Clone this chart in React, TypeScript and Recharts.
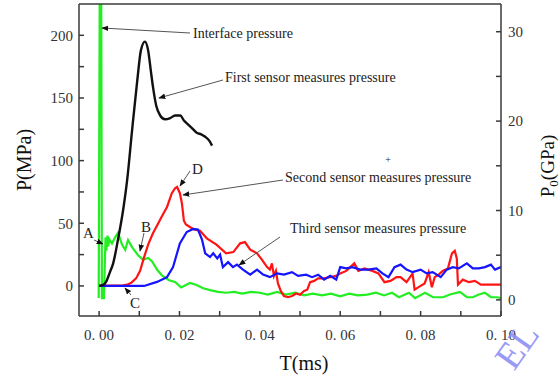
import React from "react"
import { Line, LineChart, XAxis, YAxis } from "recharts"

// time (ms)
const firstT = [0, 0.001, 0.0017, 0.0027, 0.0035, 0.0047, 0.006, 0.007, 0.0082, 0.0095, 0.0104, 0.0114, 0.0122, 0.0129, 0.0134, 0.0142, 0.0152, 0.0164, 0.0177, 0.0189, 0.0202, 0.0211, 0.0221, 0.0231, 0.0244, 0.0254, 0.0264, 0.0274, 0.0281]
const firstP = [0, 0.8, 3, 11, 18, 37, 61, 85, 124, 164, 188, 195, 188, 171, 159, 144, 136, 133, 134, 136, 136, 132, 129, 126, 122, 121, 119, 116, 112]

const secondT = [0, 0.006, 0.007, 0.008, 0.0092, 0.0102, 0.0112, 0.0122, 0.0134, 0.0144, 0.0157, 0.0169, 0.0181, 0.0189, 0.0194, 0.0201, 0.0206, 0.0211, 0.0216, 0.0226, 0.0236, 0.0251, 0.0268, 0.0292, 0.0316, 0.0334, 0.0351, 0.0363, 0.0376, 0.0393, 0.0405, 0.0418, 0.0425, 0.043, 0.0435, 0.044, 0.0445, 0.0452, 0.046, 0.047, 0.048, 0.049, 0.05, 0.051, 0.0518, 0.0525, 0.0535, 0.0545, 0.056, 0.0575, 0.059, 0.06, 0.0615, 0.0625, 0.0635, 0.0645, 0.066, 0.067, 0.068, 0.0695, 0.071, 0.0725, 0.074, 0.075, 0.0765, 0.078, 0.0785, 0.0795, 0.081, 0.082, 0.0828, 0.0835, 0.0845, 0.0855, 0.0868, 0.0878, 0.0885, 0.089, 0.0893, 0.0905, 0.092, 0.0935, 0.095, 0.097, 0.1]
const secondP = [0, 0.5, 1, 2.5, 6, 12, 23, 33, 42, 48, 56, 63, 74, 78, 79, 74, 66, 52, 49, 47, 45, 44, 38, 33, 26, 27, 34, 35, 29, 26, 21, 15, 13, 18, 8, 12, 2, -4, -8, -9, -8, -6, -7, -4, -3, 3, 4, 6, 6, 7, 8, 10, 12, 15, 18, 12, 14, 13, 12, 10, 3, 4, 7, 7, 3, 10, -3, -1, 2, 11, -1, 7, 9, 12, 14, 26, 28, 22, 1, 5, 3, 4, 1, 1, 1]

const thirdT = [0, 0.0112, 0.0144, 0.0169, 0.0184, 0.0201, 0.0218, 0.0234, 0.0246, 0.0256, 0.0264, 0.0276, 0.0284, 0.0294, 0.0301, 0.0308, 0.0321, 0.0333, 0.0343, 0.0358, 0.0376, 0.0393, 0.0408, 0.0425, 0.0443, 0.046, 0.048, 0.0495, 0.0515, 0.053, 0.0545, 0.056, 0.0575, 0.059, 0.06, 0.0615, 0.063, 0.065, 0.067, 0.069, 0.0705, 0.072, 0.0735, 0.075, 0.0765, 0.078, 0.08, 0.0815, 0.083, 0.085, 0.0865, 0.088, 0.0895, 0.0915, 0.093, 0.0945, 0.096, 0.0975, 0.0985, 0.1]
const thirdP = [0, 0, 3.2, 7, 15, 34, 43, 45.5, 45, 37, 26, 23, 26, 22, 25, 15, 19, 15, 17, 13, 9, 13, 9, 7, 10, 9, 11, 8, 9, 7, 9, 5, 8, 5, 15, 14, 15, 13, 13, 14, 10, 7, 15, 17, 13, 11, 13, 10, 11, 7, 13, 15, 14, 18, 14, 14, 15, 17, 13, 15]

const interfaceT = [-0.0001, 0.0002, 0.0005, 0.0007, 0.0012, 0.0016, 0.0018, 0.0021, 0.0023, 0.0025, 0.0032, 0.004, 0.0047, 0.0057, 0.0065, 0.0072, 0.0082, 0.0097, 0.0109, 0.0122, 0.0132, 0.0144, 0.0157, 0.0174, 0.0189, 0.0204, 0.0226, 0.0241, 0.0259, 0.0276, 0.0296, 0.0316, 0.0336, 0.0356, 0.0378, 0.04, 0.042, 0.0443, 0.0465, 0.0488, 0.051, 0.0532, 0.0555, 0.0577, 0.06, 0.0622, 0.0644, 0.0667, 0.0689, 0.0709, 0.0729, 0.0746, 0.0771, 0.0786, 0.0811, 0.0831, 0.0856, 0.0873, 0.0898, 0.0915, 0.093, 0.0945, 0.096, 0.0975, 0.099, 0.1]
const interfaceP0 = [0.2, 40, 40, 0.2, 0.2, 7, 5.5, 7.2, 6, 6.8, 6.3, 7, 7.5, 6.2, 5.6, 6.7, 5.9, 5, 4.5, 4.7, 4.3, 3.4, 2.7, 2.2, 2, 1.4, 1.9, 1.7, 1.3, 1.1, 0.9, 0.8, 0.9, 0.7, 0.9, 0.8, 0.6, 0.9, 0.6, 0.8, 0.5, 0.7, 0.5, 0.7, 0.4, 0.7, 0.5, 0.6, 0.8, 0.5, 0.8, 0.3, 0.8, 0.2, 0.8, 0.3, 0.3, 0.6, 0.9, 0.3, 0.3, 0.6, 0.8, 0.3, 0.3, 0.2]

const xTicks = [0, 0.01, 0.02, 0.03, 0.04, 0.05, 0.06, 0.07, 0.08, 0.09, 0.1]
const xLabels = ["0. 00", "", "0. 02", "", "0. 04", "", "0. 06", "", "0. 08", "", "0. 10"]
const leftTicks = [0, 25, 50, 75, 100, 125, 150, 175, 200]
const leftLabels = ["0", "", "50", "", "100", "", "150", "", "200"]
const rightTicks = [0, 5, 10, 15, 20, 25, 30]
const rightLabels = ["0", "", "10", "", "20", "", "30"]

const zip = (ts: number[], vs: number[]) => ts.map((t, i) => ({ t, v: vs[i] }))

const serif = "'Liberation Serif', 'DejaVu Serif', serif"
const axisColor = "#3a3a3a"
const tickStyle = { fill: "#333", fontSize: 15, fontFamily: serif }
const xDomain = [-0.005, 0.1]

const lookup = (ticks: number[], labels: string[]) => (v: number) => {
  const i = ticks.findIndex((x) => Math.abs(x - v) < 1e-9)
  return i >= 0 ? labels[i] : ""
}

function Notes() {
  const txt = { fontFamily: serif, fontSize: 14, fill: "#222" }
  const ln = { stroke: "#555", strokeWidth: 1, markerEnd: "url(#arr)" }
  return (
    <svg width={560} height={381} style={{ position: "absolute", left: 0, top: 0, pointerEvents: "none" }}>
      <defs>
        <marker id="arr" viewBox="0 0 10 10" refX="9" refY="5" markerWidth="7" markerHeight="7" orient="auto-start-reverse">
          <path d="M0,1 L10,5 L0,9 z" fill="#111" />
        </marker>
      </defs>
      <line x1={190} y1={33} x2={102} y2={28} {...ln} />
      <text x={193} y={38} {...txt}>Interface pressure</text>
      <line x1={223} y1={80} x2={159} y2={98} {...ln} />
      <text x={225} y={82} {...txt}>First sensor measures pressure</text>
      <line x1={283} y1={180} x2={183} y2={195} {...ln} />
      <text x={285} y={182} {...txt}>Second sensor measures pressure</text>
      <line x1={280} y1={237} x2={239} y2={265} {...ln} />
      <text x={290} y={233} {...txt}>Third sensor measures pressure</text>
      <line x1={190} y1={171} x2={180} y2={186} {...ln} />
      <text x={192} y={174} {...txt} fontSize={15}>D</text>
      <line x1={94} y1={240} x2={103} y2={244} {...ln} />
      <text x={83} y={238} {...txt} fontSize={15}>A</text>
      <line x1={144} y1={233} x2={140} y2={251} {...ln} />
      <text x={141} y={232} {...txt} fontSize={15}>B</text>
      <line x1={131} y1={295} x2={125} y2={288} {...ln} />
      <text x={130} y={308} {...txt} fontSize={15}>C</text>
      <text x={388} y={163} {...txt} fontSize={10} textAnchor="middle">+</text>
      <text transform="translate(31,160) rotate(-90)" textAnchor="middle" fontFamily={serif} fontSize={20} fill="#111">P(MPa)</text>
      <text transform="translate(554,166) rotate(-90)" textAnchor="middle" fontFamily={serif} fontSize={19} fill="#111">
        P<tspan fontSize={13} dy={4}>0</tspan><tspan dy={-4}>(GPa)</tspan>
      </text>
      <text x={304} y={370} textAnchor="middle" fontFamily={serif} fontSize={20} fill="#111">T(ms)</text>
      <text transform="translate(514,372) rotate(-55)" fontFamily={serif} fontSize={38} fill="#8e8ef6" opacity={0.9}>EL</text>
    </svg>
  )
}

export default function App() {
  return (
    <div style={{ position: "absolute", left: 0, top: 0, width: 560, height: 381, background: "#fff", fontFamily: serif }}>
      <LineChart width={560} height={381} margin={{ top: 3, right: 19, bottom: 35, left: 29 }} style={{ fontFamily: serif }}>
        <XAxis
          xAxisId={0}
          type="number"
          dataKey="t"
          domain={xDomain}
          allowDataOverflow
          ticks={xTicks}
          interval={0}
          tickFormatter={lookup(xTicks, xLabels)}
          tickSize={-5}
          tickMargin={18}
          height={30}
          stroke={axisColor}
          strokeWidth={1.5}
          tick={tickStyle}
        />
        <XAxis
          xAxisId="top"
          orientation="top"
          type="number"
          dataKey="t"
          domain={xDomain}
          allowDataOverflow
          ticks={xTicks}
          interval={0}
          tick={false}
          tickSize={-5}
          height={1}
          stroke={axisColor}
          strokeWidth={1.5}
        />
        <YAxis
          yAxisId="left"
          type="number"
          domain={[-24, 225]}
          allowDataOverflow
          ticks={leftTicks}
          interval={0}
          tickFormatter={lookup(leftTicks, leftLabels)}
          tickSize={-5}
          tickMargin={11}
          width={50}
          stroke={axisColor}
          strokeWidth={1.5}
          tick={tickStyle}
        />
        <YAxis
          yAxisId="right"
          orientation="right"
          type="number"
          domain={[-1.8, 33.1]}
          allowDataOverflow
          ticks={rightTicks}
          interval={0}
          tickFormatter={lookup(rightTicks, rightLabels)}
          tickSize={-5}
          tickMargin={12}
          width={40}
          stroke={axisColor}
          strokeWidth={1.5}
          tick={tickStyle}
        />
        <Line yAxisId="right" data={zip(interfaceT, interfaceP0)} dataKey="v" type="linear" stroke="#22ee22" strokeWidth={2.2} dot={false} isAnimationActive={false} />
        <Line yAxisId="left" data={zip(secondT, secondP)} dataKey="v" type="linear" stroke="#ff1414" strokeWidth={2.2} dot={false} isAnimationActive={false} />
        <Line yAxisId="left" data={zip(thirdT, thirdP)} dataKey="v" type="linear" stroke="#1414ff" strokeWidth={2.2} dot={false} isAnimationActive={false} />
        <Line yAxisId="left" data={zip(firstT, firstP)} dataKey="v" type="monotone" stroke="#111" strokeWidth={2.4} dot={false} isAnimationActive={false} />
      </LineChart>
      <Notes />
    </div>
  )
}
